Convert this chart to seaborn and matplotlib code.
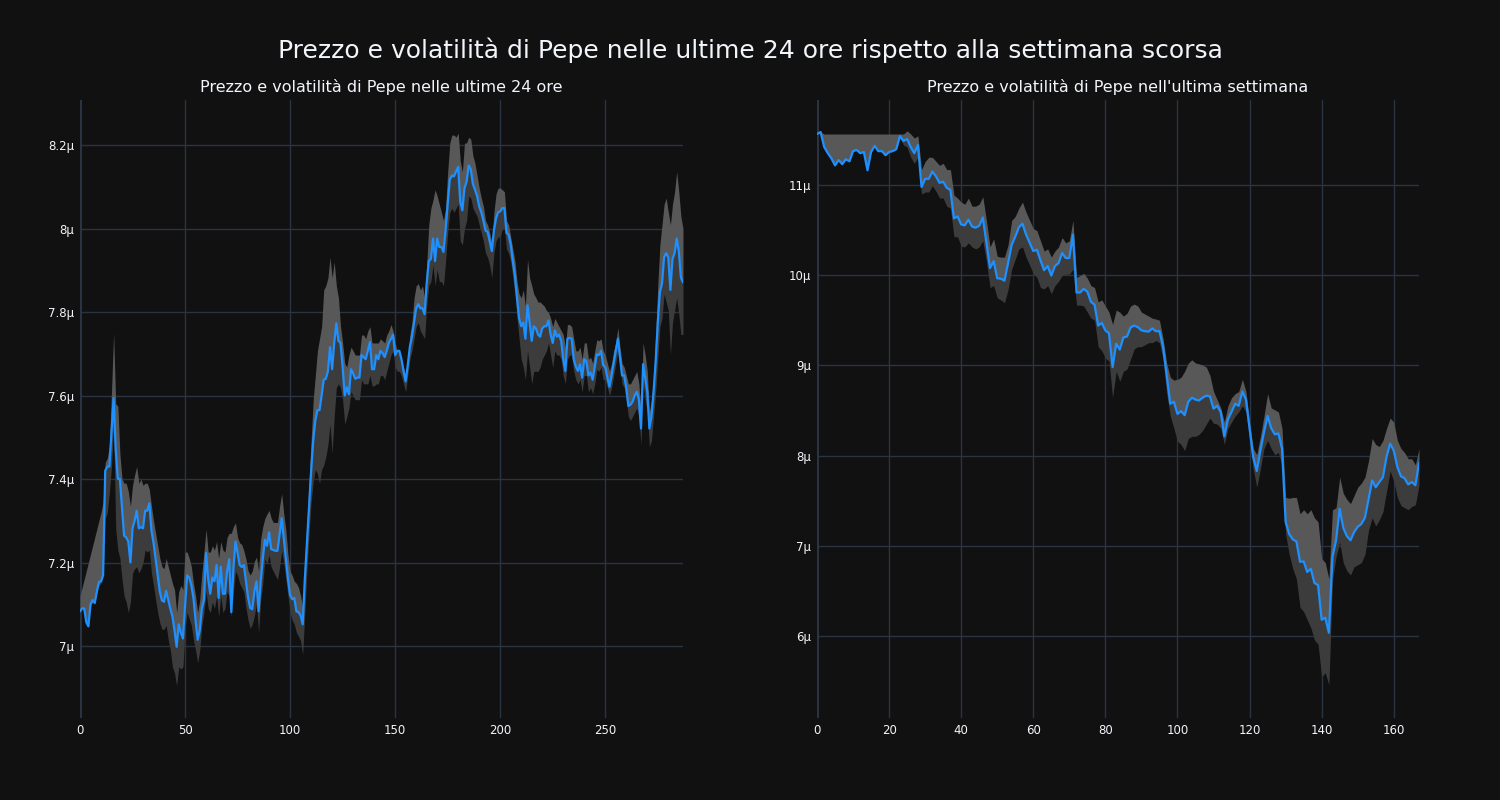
import numpy as np
import pandas as pd
import matplotlib
matplotlib.use('Agg')
import matplotlib.pyplot as plt
import seaborn as sns
from matplotlib.ticker import FuncFormatter, FixedLocator

BG = '#111111'
GRID = '#283442'
TEXT = '#f2f5fa'
LINE = '#1e90ff'
BAND_UP = '#585858'
BAND_LO = '#3c3c3c'

SUPTITLE = 'Prezzo e volatilità di Pepe nelle ultime 24 ore rispetto alla settimana scorsa'
TITLE_24H = 'Prezzo e volatilità di Pepe nelle ultime 24 ore'
TITLE_7D = "Prezzo e volatilità di Pepe nell'ultima settimana"

# last 24 hours, 5-minute steps, values in micro units
PRICE_24H = [
    7.083, 7.09, 7.09, 7.057, 7.047, 7.10, 7.11, 7.103, 7.13, 7.153,
    7.155, 7.17, 7.42, 7.43, 7.43, 7.51, 7.594, 7.47, 7.40, 7.40,
    7.33, 7.264, 7.26, 7.25, 7.20, 7.282, 7.30, 7.324, 7.282, 7.285,
    7.282, 7.324, 7.324, 7.342, 7.277, 7.247, 7.208, 7.169, 7.13, 7.109,
    7.106, 7.132, 7.11, 7.089, 7.071, 7.037, 6.998, 7.052, 7.032, 7.018,
    7.096, 7.169, 7.164, 7.145, 7.115, 7.062, 7.015, 7.037, 7.09, 7.11,
    7.223, 7.16, 7.125, 7.164, 7.155, 7.194, 7.115, 7.19, 7.125, 7.125,
    7.179, 7.208, 7.081, 7.184, 7.25, 7.223, 7.194, 7.189, 7.194, 7.155,
    7.116, 7.091, 7.088, 7.13, 7.155, 7.083, 7.155, 7.208, 7.255, 7.24,
    7.272, 7.232, 7.23, 7.228, 7.228, 7.266, 7.306, 7.257, 7.208, 7.16,
    7.122, 7.112, 7.115, 7.083, 7.081, 7.073, 7.052, 7.16, 7.247, 7.335,
    7.418, 7.492, 7.54, 7.565, 7.565, 7.60, 7.638, 7.64, 7.658, 7.716,
    7.663, 7.726, 7.773, 7.731, 7.726, 7.668, 7.60, 7.62, 7.603, 7.663,
    7.653, 7.64, 7.643, 7.643, 7.697, 7.692, 7.687, 7.707, 7.728, 7.663,
    7.663, 7.697, 7.687, 7.707, 7.702, 7.692, 7.707, 7.726, 7.736, 7.746,
    7.697, 7.707, 7.707, 7.687, 7.658, 7.634, 7.673, 7.717, 7.741, 7.775,
    7.809, 7.819, 7.809, 7.809, 7.795, 7.868, 7.922, 7.927, 7.976, 7.922,
    7.976, 7.956, 7.956, 7.944, 7.995, 8.058, 8.117, 8.127, 8.125, 8.137,
    8.148, 8.063, 8.044, 8.097, 8.112, 8.151, 8.142, 8.107, 8.093, 8.078,
    8.053, 8.039, 8.019, 7.995, 7.992, 7.970, 7.946, 7.995, 8.024, 8.039,
    8.041, 8.049, 8.049, 7.990, 7.985, 7.961, 7.922, 7.887, 7.834, 7.785,
    7.766, 7.775, 7.736, 7.816, 7.775, 7.731, 7.766, 7.761, 7.746, 7.741,
    7.761, 7.766, 7.766, 7.780, 7.746, 7.726, 7.756, 7.741, 7.746, 7.731,
    7.687, 7.659, 7.736, 7.738, 7.736, 7.687, 7.669, 7.659, 7.675, 7.643,
    7.687, 7.682, 7.648, 7.655, 7.638, 7.668, 7.699, 7.697, 7.707, 7.673,
    7.668, 7.643, 7.621, 7.648, 7.678, 7.707, 7.736, 7.692, 7.648, 7.648,
    7.619, 7.575, 7.578, 7.585, 7.600, 7.609, 7.590, 7.521, 7.675, 7.643,
    7.609, 7.521, 7.550, 7.609, 7.682, 7.775, 7.848, 7.868, 7.931, 7.941,
    7.931, 7.853, 7.927, 7.941, 7.976, 7.946, 7.883, 7.871,
]

UPPER_24H = [
    7.12, 7.14, 7.16, 7.18, 7.20, 7.22, 7.24, 7.26, 7.28, 7.30,
    7.32, 7.345, 7.44, 7.45, 7.48, 7.61, 7.75, 7.58, 7.575, 7.46,
    7.40, 7.39, 7.39, 7.37, 7.335, 7.385, 7.41, 7.43, 7.39, 7.40,
    7.385, 7.39, 7.39, 7.375, 7.335, 7.30, 7.27, 7.24, 7.21, 7.19,
    7.185, 7.21, 7.19, 7.17, 7.15, 7.135, 7.08, 7.13, 7.145, 7.135,
    7.225, 7.225, 7.21, 7.19, 7.15, 7.12, 7.08, 7.11, 7.175, 7.225,
    7.28, 7.225, 7.225, 7.24, 7.23, 7.25, 7.21, 7.25, 7.23, 7.225,
    7.26, 7.27, 7.27, 7.286, 7.295, 7.26, 7.247, 7.243, 7.228, 7.208,
    7.18, 7.17, 7.18, 7.203, 7.213, 7.18, 7.257, 7.286, 7.306, 7.316,
    7.325, 7.306, 7.296, 7.296, 7.296, 7.335, 7.365, 7.316, 7.277, 7.218,
    7.179, 7.169, 7.155, 7.15, 7.14, 7.12, 7.091, 7.208, 7.296, 7.394,
    7.492, 7.59, 7.648, 7.707, 7.736, 7.765, 7.853, 7.863, 7.882, 7.931,
    7.882, 7.92, 7.863, 7.834, 7.765, 7.726, 7.677, 7.668, 7.697, 7.716,
    7.707, 7.697, 7.697, 7.697, 7.745, 7.745, 7.736, 7.755, 7.765, 7.726,
    7.726, 7.726, 7.726, 7.736, 7.731, 7.726, 7.745, 7.755, 7.77, 7.755,
    7.726, 7.707, 7.697, 7.687, 7.668, 7.648, 7.687, 7.745, 7.775, 7.834,
    7.863, 7.868, 7.853, 7.863, 7.834, 7.912, 8.009, 8.049, 8.068, 8.093,
    8.078, 8.058, 8.039, 8.019, 8.049, 8.136, 8.205, 8.224, 8.224, 8.219,
    8.229, 8.161, 8.136, 8.205, 8.205, 8.219, 8.214, 8.175, 8.156, 8.127,
    8.097, 8.073, 8.053, 8.019, 8.009, 7.99, 7.966, 8.039, 8.083, 8.097,
    8.097, 8.093, 8.088, 8.019, 8.009, 7.98, 7.951, 7.922, 7.873, 7.843,
    7.834, 7.853, 7.814, 7.926, 7.882, 7.863, 7.843, 7.834, 7.824, 7.824,
    7.819, 7.814, 7.804, 7.799, 7.785, 7.765, 7.785, 7.775, 7.765, 7.756,
    7.746, 7.716, 7.77, 7.77, 7.765, 7.736, 7.707, 7.707, 7.716, 7.687,
    7.726, 7.726, 7.687, 7.692, 7.677, 7.707, 7.734, 7.731, 7.736, 7.707,
    7.697, 7.677, 7.658, 7.677, 7.707, 7.726, 7.763, 7.716, 7.677, 7.668,
    7.648, 7.628, 7.628, 7.638, 7.648, 7.658, 7.628, 7.56, 7.726, 7.697,
    7.658, 7.56, 7.589, 7.648, 7.746, 7.863, 7.961, 8.009, 8.058, 8.073,
    8.039, 8.009, 8.058, 8.088, 8.136, 8.088, 8.029, 8.0,
]

LOWER_24H = [
    7.08, 7.09, 7.09, 7.055, 7.045, 7.095, 7.105, 7.10, 7.125, 7.145,
    7.15, 7.165, 7.305, 7.32, 7.37, 7.43, 7.53, 7.28, 7.23, 7.21,
    7.16, 7.12, 7.105, 7.08, 7.105, 7.175, 7.185, 7.19, 7.175, 7.185,
    7.20, 7.23, 7.225, 7.23, 7.175, 7.145, 7.11, 7.08, 7.055, 7.04,
    7.04, 7.05, 7.015, 6.99, 6.95, 6.935, 6.905, 6.95, 6.945, 6.95,
    7.04, 7.08, 7.065, 7.05, 7.015, 6.99, 6.96, 6.99, 7.05, 7.08,
    7.13, 7.09, 7.08, 7.105, 7.09, 7.12, 7.07, 7.12, 7.08, 7.09,
    7.13, 7.12, 7.07, 7.13, 7.179, 7.169, 7.15, 7.14, 7.13, 7.091,
    7.062, 7.042, 7.052, 7.072, 7.101, 7.032, 7.11, 7.15, 7.208, 7.198,
    7.218, 7.189, 7.179, 7.169, 7.159, 7.189, 7.228, 7.198, 7.159, 7.12,
    7.081, 7.062, 7.052, 7.032, 7.023, 7.013, 6.979, 7.081, 7.179, 7.267,
    7.345, 7.394, 7.423, 7.413, 7.389, 7.423, 7.433, 7.453, 7.482, 7.531,
    7.462, 7.55, 7.619, 7.628, 7.619, 7.59, 7.531, 7.55, 7.57, 7.609,
    7.599, 7.59, 7.59, 7.59, 7.638, 7.628, 7.628, 7.628, 7.648, 7.623,
    7.623, 7.628, 7.628, 7.648, 7.648, 7.638, 7.658, 7.677, 7.697, 7.707,
    7.668, 7.658, 7.658, 7.648, 7.628, 7.609, 7.648, 7.687, 7.707, 7.736,
    7.765, 7.775, 7.755, 7.746, 7.736, 7.814, 7.863, 7.873, 7.912, 7.863,
    7.902, 7.873, 7.873, 7.863, 7.922, 7.99, 8.039, 8.049, 8.039, 8.049,
    8.058, 7.97, 7.961, 8.0, 8.019, 8.078, 8.073, 8.049, 8.039, 8.029,
    8.009, 7.99, 7.97, 7.941, 7.931, 7.912, 7.882, 7.941, 7.97, 7.98,
    7.98, 8.0, 8.0, 7.951, 7.941, 7.922, 7.882, 7.843, 7.785, 7.736,
    7.687, 7.668, 7.638, 7.707, 7.668, 7.628, 7.658, 7.658, 7.658, 7.668,
    7.687, 7.697, 7.707, 7.726, 7.697, 7.668, 7.707, 7.697, 7.697, 7.687,
    7.648, 7.628, 7.687, 7.697, 7.697, 7.658, 7.638, 7.628, 7.638, 7.609,
    7.648, 7.648, 7.609, 7.619, 7.604, 7.628, 7.663, 7.658, 7.668, 7.638,
    7.638, 7.619, 7.6, 7.619, 7.648, 7.677, 7.707, 7.668, 7.628, 7.619,
    7.589, 7.55, 7.54, 7.55, 7.56, 7.57, 7.55, 7.482, 7.628, 7.589,
    7.56, 7.477, 7.492, 7.55, 7.609, 7.687, 7.765, 7.785, 7.843, 7.824,
    7.804, 7.697, 7.775, 7.804, 7.834, 7.795, 7.746, 7.746,
]

# last week, hourly steps, values in micro units
PRICE_7D = [
    11.565, 11.587, 11.42, 11.352, 11.294, 11.217, 11.276, 11.23, 11.285, 11.262,
    11.375, 11.388, 11.352, 11.366, 11.163, 11.366, 11.434, 11.375, 11.375, 11.33,
    11.366, 11.375, 11.397, 11.542, 11.488, 11.51, 11.42, 11.352, 11.443, 10.977,
    11.068, 11.068, 11.149, 11.095, 11.023, 11.036, 10.968, 10.946, 10.63, 10.652,
    10.562, 10.553, 10.616, 10.539, 10.526, 10.548, 10.639, 10.359, 10.079, 10.155,
    9.966, 9.961, 9.939, 10.133, 10.336, 10.426, 10.53, 10.571, 10.449, 10.359,
    10.268, 10.282, 10.164, 10.056, 10.101, 9.995, 10.101, 10.133, 10.246, 10.19,
    10.19, 10.449, 9.808, 9.808, 9.848, 9.817, 9.704, 9.672, 9.442, 9.47,
    9.388, 9.356, 8.981, 9.24, 9.175, 9.31, 9.32, 9.42, 9.442, 9.424,
    9.388, 9.379, 9.374, 9.41, 9.379, 9.379, 9.207, 8.891, 8.575, 8.597,
    8.462, 8.493, 8.448, 8.597, 8.642, 8.62, 8.611, 8.642, 8.665, 8.656,
    8.52, 8.552, 8.484, 8.213, 8.403, 8.484, 8.575, 8.552, 8.71, 8.62,
    8.303, 7.987, 7.829, 8.055, 8.258, 8.439, 8.303, 8.236, 8.245, 8.078,
    7.265, 7.129, 7.071, 7.048, 6.822, 6.827, 6.709, 6.745, 6.587, 6.564,
    6.18, 6.203, 6.036, 6.88, 7.061, 7.409, 7.197, 7.107, 7.061, 7.152,
    7.21, 7.242, 7.31, 7.513, 7.725, 7.649, 7.707, 7.761, 7.987, 8.132,
    8.055, 7.874, 7.77, 7.748, 7.68, 7.707, 7.671, 7.92,
]

UPPER_7D = [
    11.565, 11.587, 11.565, 11.565, 11.565, 11.565, 11.565, 11.565, 11.565, 11.565,
    11.565, 11.565, 11.565, 11.565, 11.565, 11.565, 11.565, 11.565, 11.565, 11.565,
    11.565, 11.565, 11.565, 11.565, 11.565, 11.6, 11.565, 11.52, 11.545, 11.17,
    11.26, 11.307, 11.307, 11.262, 11.217, 11.24, 11.17, 11.17, 10.887, 10.855,
    10.81, 10.787, 10.855, 10.765, 10.765, 10.787, 10.869, 10.607, 10.313, 10.403,
    10.209, 10.2, 10.2, 10.336, 10.607, 10.652, 10.743, 10.81, 10.697, 10.607,
    10.517, 10.494, 10.381, 10.268, 10.291, 10.2, 10.268, 10.313, 10.417, 10.358,
    10.381, 10.607, 9.975, 9.997, 10.02, 9.966, 9.884, 9.862, 9.704, 9.726,
    9.658, 9.59, 9.455, 9.613, 9.59, 9.546, 9.578, 9.658, 9.68, 9.658,
    9.59, 9.568, 9.546, 9.523, 9.514, 9.5, 9.297, 9.026, 8.868, 8.836,
    8.846, 8.868, 8.936, 9.026, 9.062, 9.026, 9.017, 9.004, 8.981, 8.89,
    8.71, 8.62, 8.529, 8.371, 8.552, 8.642, 8.687, 8.71, 8.846, 8.71,
    8.371, 8.078, 8.01, 8.213, 8.439, 8.687, 8.529, 8.507, 8.484, 8.303,
    7.536, 7.527, 7.536, 7.536, 7.355, 7.4, 7.355, 7.4, 7.31, 7.265,
    6.858, 6.813, 6.632, 7.4, 7.422, 7.761, 7.581, 7.513, 7.468, 7.558,
    7.649, 7.694, 7.761, 7.942, 8.19, 8.123, 8.1, 8.168, 8.303, 8.416,
    8.371, 8.168, 8.078, 8.033, 7.965, 7.965, 7.897, 8.078,
]

LOWER_7D = [
    11.565, 11.587, 11.42, 11.352, 11.294, 11.217, 11.276, 11.23, 11.285, 11.262,
    11.375, 11.388, 11.352, 11.366, 11.163, 11.366, 11.434, 11.375, 11.375, 11.33,
    11.366, 11.375, 11.397, 11.52, 11.443, 11.42, 11.307, 11.24, 11.307, 10.9,
    10.922, 10.922, 10.99, 10.931, 10.855, 10.855, 10.765, 10.743, 10.426, 10.426,
    10.32, 10.313, 10.358, 10.313, 10.291, 10.313, 10.381, 10.155, 9.862, 9.884,
    9.749, 9.726, 9.695, 9.839, 10.065, 10.178, 10.291, 10.313, 10.2, 10.11,
    10.02, 9.975, 9.862, 9.848, 9.884, 9.794, 9.884, 9.93, 9.997, 10.011,
    10.01, 10.065, 9.668, 9.668, 9.658, 9.59, 9.523, 9.5, 9.207, 9.162,
    9.08, 9.049, 8.642, 8.936, 8.823, 8.936, 8.958, 9.071, 9.184, 9.207,
    9.207, 9.229, 9.252, 9.252, 9.275, 9.252, 9.071, 8.687, 8.439, 8.303,
    8.159, 8.123, 8.055, 8.19, 8.213, 8.213, 8.236, 8.281, 8.349, 8.416,
    8.358, 8.349, 8.303, 8.123, 8.303, 8.371, 8.439, 8.484, 8.552, 8.484,
    8.168, 7.852, 7.649, 7.852, 8.078, 8.168, 8.078, 8.01, 8.033, 7.897,
    7.129, 6.903, 6.745, 6.632, 6.316, 6.271, 6.18, 6.09, 5.955, 5.91,
    5.548, 5.594, 5.458, 6.632, 6.88, 7.039, 6.813, 6.722, 6.677, 6.768,
    6.79, 6.813, 6.903, 7.174, 7.31, 7.219, 7.287, 7.378, 7.603, 7.829,
    7.716, 7.536, 7.445, 7.422, 7.4, 7.436, 7.454, 7.671,
]

XTICKS_24H = [0, 50, 100, 150, 200, 250]
YTICKS_24H = [7.0, 7.2, 7.4, 7.6, 7.8, 8.0, 8.2]
XTICKS_7D = [0, 20, 40, 60, 80, 100, 120, 140, 160]
YTICKS_7D = [6, 7, 8, 9, 10, 11]


def micro_fmt(v, _pos):
    return f'{v:g}µ'


def draw_panel(ax, price, upper, lower, xticks, yticks, ylim, title):
    df = pd.DataFrame({
        'step': np.arange(len(price)),
        'price': price,
        'upper': upper,
        'lower': lower,
    })
    ax.set_facecolor(BG)
    ax.fill_between(df['step'], df['price'], df['upper'], color=BAND_UP, linewidth=0, zorder=2)
    ax.fill_between(df['step'], df['lower'], df['price'], color=BAND_LO, linewidth=0, zorder=2)
    sns.lineplot(data=df, x='step', y='price', ax=ax, color=LINE, linewidth=1.6, zorder=3)

    ax.set_xlim(0, len(price) - 1)
    ax.set_ylim(*ylim)
    ax.xaxis.set_major_locator(FixedLocator(xticks))
    ax.yaxis.set_major_locator(FixedLocator(yticks))
    ax.yaxis.set_major_formatter(FuncFormatter(micro_fmt))
    ax.grid(True, color=GRID, linewidth=1)
    ax.set_axisbelow(True)
    ax.axvline(0, color=GRID, linewidth=2.2, zorder=1)
    for s in ax.spines.values():
        s.set_visible(False)
    ax.tick_params(colors=TEXT, labelsize=8.5, length=0, pad=4)
    ax.set_xlabel('')
    ax.set_ylabel('')
    ax.set_title(title, color=TEXT, fontsize=11.5, pad=6)


sns.set_theme(style='dark')
plt.rcParams['font.family'] = ['DejaVu Sans']

fig = plt.figure(figsize=(15, 8), dpi=100, facecolor=BG)
ax1 = fig.add_axes([80 / 1500, 82 / 800, 603 / 1500, 618 / 800])
ax2 = fig.add_axes([817 / 1500, 82 / 800, 602 / 1500, 618 / 800])

draw_panel(ax1, PRICE_24H, UPPER_24H, LOWER_24H, XTICKS_24H, YTICKS_24H,
           (6.8275, 8.308), TITLE_24H)
draw_panel(ax2, PRICE_7D, UPPER_7D, LOWER_7D, XTICKS_7D, YTICKS_7D,
           (5.091, 11.942), TITLE_7D)

fig.text(0.5, 1 - 50 / 800, SUPTITLE, color=TEXT, fontsize=18, ha='center', va='center')

fig.savefig('out.png', dpi=100, facecolor=BG)
